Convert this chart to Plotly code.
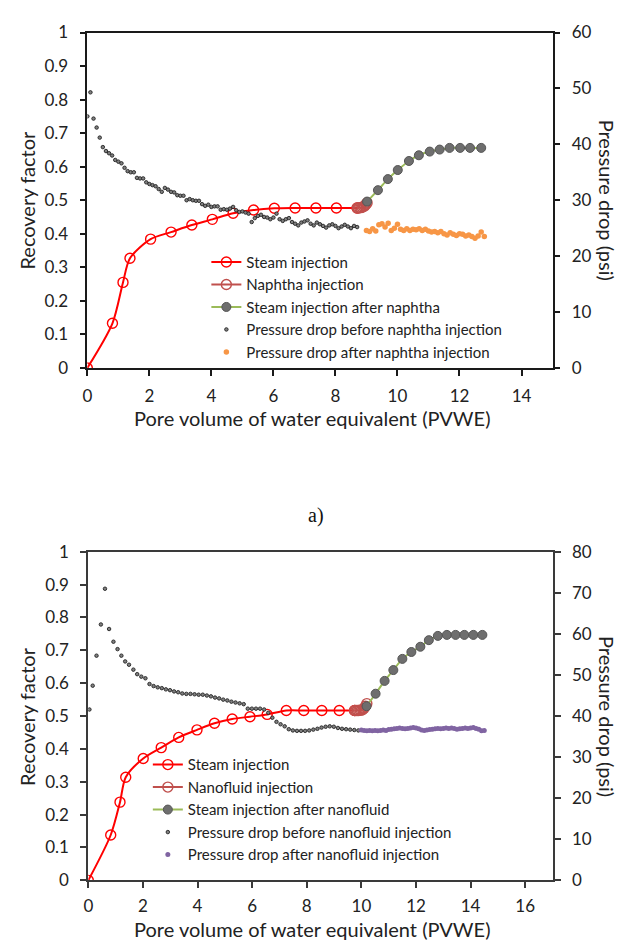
import plotly.graph_objects as go

# ---------------- Data: chart a) (naphtha) ----------------
a_steam_x = [0, 0.81, 1.15, 1.375, 2.04, 2.70, 3.37, 4.03, 4.70, 5.36, 6.03, 6.70, 7.37, 8.03, 8.70]
a_steam_rf = [0, 0.133, 0.255, 0.327, 0.384, 0.405, 0.426, 0.443, 0.461, 0.471, 0.476, 0.477, 0.477, 0.477, 0.477]

a_naph_x = [8.70, 8.74, 8.78, 8.82, 8.86, 8.90, 8.94, 8.98, 9.02]
a_naph_rf = [0.477, 0.477, 0.478, 0.478, 0.479, 0.481, 0.483, 0.487, 0.492]

a_after_x = [9.02, 9.37, 9.69, 10.01, 10.37, 10.69, 11.04, 11.36, 11.68, 12.02, 12.34, 12.70]
a_after_rf = [0.496, 0.530, 0.563, 0.590, 0.617, 0.634, 0.645, 0.651, 0.656, 0.656, 0.656, 0.656]

a_dp_before_x = [0.0, 0.1, 0.2, 0.3, 0.4, 0.5, 0.6, 0.7, 0.8, 0.9, 1.0, 1.1, 1.2, 1.3, 1.4, 1.5,
                 1.6, 1.7, 1.8, 1.9, 2.0, 2.1, 2.2, 2.3, 2.4, 2.5, 2.6, 2.7, 2.8, 2.9, 3.0, 3.1,
                 3.2, 3.3, 3.4, 3.5, 3.6, 3.7, 3.8, 3.9, 4.0, 4.1, 4.2, 4.3, 4.4, 4.5, 4.6, 4.7,
                 4.8, 4.9, 5.0, 5.1, 5.2, 5.3, 5.4, 5.5, 5.6, 5.7, 5.8, 5.9, 6.0, 6.1, 6.2, 6.3,
                 6.4, 6.5, 6.6, 6.7, 6.8, 6.9, 7.0, 7.1, 7.2, 7.3, 7.4, 7.5, 7.6, 7.7, 7.8, 7.9,
                 8.0, 8.1, 8.2, 8.3, 8.4, 8.5, 8.6, 8.7]
a_dp_before = [45.0, 49.3, 44.6, 43.0, 41.2, 39.5, 38.8, 38.4, 38.0, 37.2, 36.9, 36.6, 35.8, 35.2, 35.0, 35.0,
               34.0, 33.9, 33.9, 33.2, 32.9, 32.7, 32.5, 32.0, 31.5, 32.2, 31.9, 31.5, 31.4, 30.9, 30.8, 30.8,
               30.0, 30.2, 30.0, 29.9, 29.9, 29.3, 29.0, 29.2, 28.8, 28.9, 28.9, 28.3, 28.4, 28.3, 28.5, 28.8,
               28.2, 27.9, 28.0, 27.8, 27.6, 26.1, 26.8, 27.2, 27.4, 27.0, 26.9, 26.6, 26.9, 27.6, 26.6, 26.3,
               26.6, 26.8, 26.1, 25.8, 25.5, 26.0, 26.2, 26.4, 25.8, 25.5, 26.0, 25.7, 25.4, 25.1, 25.5, 25.7,
               25.4, 25.0, 25.3, 25.6, 25.3, 25.0, 25.4, 25.2]

a_dp_after_x = [9.0, 9.1, 9.2, 9.3, 9.4, 9.5, 9.6, 9.7, 9.8, 9.9, 10.0, 10.1, 10.2, 10.3, 10.4, 10.5,
                10.6, 10.7, 10.8, 10.9, 11.0, 11.1, 11.2, 11.3, 11.4, 11.5, 11.6, 11.7, 11.8, 11.9, 12.0,
                12.1, 12.2, 12.3, 12.4, 12.5, 12.6, 12.7, 12.8]
a_dp_after = [24.6, 24.4, 24.9, 24.5, 25.6, 25.8, 25.2, 25.9, 24.6, 25.0, 25.7, 24.8, 24.6, 24.9, 24.6, 24.8,
              24.7, 24.9, 24.6, 24.8, 24.5, 24.3, 24.4, 24.2, 24.4, 24.0, 23.8, 24.2, 23.9, 23.7, 24.0,
              23.9, 23.6, 23.8, 23.5, 23.2, 23.6, 24.3, 23.5]

# ---------------- Data: chart b) (nanofluid) ----------------
b_steam_x = [0, 0.82, 1.16, 1.37, 2.01, 2.67, 3.31, 3.98, 4.62, 5.27, 5.92, 6.55, 7.25, 7.89, 8.55, 9.19, 9.75]
b_steam_rf = [0, 0.138, 0.238, 0.314, 0.371, 0.404, 0.435, 0.458, 0.478, 0.491, 0.498, 0.505, 0.517, 0.517, 0.517, 0.517, 0.517]

b_nano_x = [9.75, 9.80, 9.85, 9.90, 9.95, 10.00, 10.05, 10.10, 10.15, 10.20]
b_nano_rf = [0.517, 0.517, 0.517, 0.517, 0.518, 0.518, 0.520, 0.524, 0.530, 0.538]

b_after_x = [10.19, 10.52, 10.85, 11.17, 11.50, 11.83, 12.16, 12.47, 12.80, 13.13, 13.45, 13.77, 14.10, 14.43]
b_after_rf = [0.530, 0.568, 0.607, 0.640, 0.674, 0.695, 0.711, 0.731, 0.744, 0.747, 0.747, 0.747, 0.747, 0.747]

b_dp_before_x = [0.04, 0.16, 0.30, 0.46, 0.61, 0.76, 0.92, 1.07, 1.21, 1.35, 1.49, 1.65, 1.79, 1.94, 2.09,
                 2.24, 2.39, 2.54, 2.69, 2.84, 2.99, 3.14, 3.29, 3.44, 3.59, 3.74, 3.89, 4.04, 4.19, 4.34,
                 4.49, 4.64, 4.79, 4.94, 5.09, 5.24, 5.39, 5.54, 5.69, 5.84, 5.99, 6.14, 6.29, 6.44, 6.59,
                 6.74, 6.89, 7.04, 7.19, 7.34, 7.49, 7.64, 7.79, 7.94, 8.09, 8.24, 8.39, 8.54, 8.69, 8.84,
                 8.99, 9.14, 9.29, 9.44, 9.59, 9.74, 9.89]
b_dp_before = [41.6, 47.4, 54.7, 62.3, 71.0, 61.2, 58.1, 56.3, 54.7, 53.3, 52.5, 51.3, 50.2, 49.6, 49.2,
               47.8, 47.3, 47.0, 46.8, 46.5, 46.3, 46.0, 45.8, 45.5, 45.4, 45.4, 45.3, 45.2, 45.2, 45.0,
               44.8, 44.5, 44.3, 44.0, 43.8, 43.5, 43.3, 43.1, 42.9, 41.8, 41.8, 41.8, 41.8, 41.6, 40.8,
               39.6, 38.6, 38.0, 37.5, 36.8, 36.5, 36.4, 36.4, 36.4, 36.5, 36.7, 36.9, 37.2, 37.4, 37.5,
               37.4, 37.1, 36.9, 36.8, 36.7, 36.6, 36.5]

b_dp_after_x = [10.0, 10.1, 10.2, 10.3, 10.4, 10.5, 10.6, 10.7, 10.8, 10.9, 11.0, 11.1, 11.2, 11.3, 11.4,
                11.5, 11.6, 11.7, 11.8, 11.9, 12.0, 12.1, 12.2, 12.3, 12.4, 12.5, 12.6, 12.7, 12.8, 12.9,
                13.0, 13.1, 13.2, 13.3, 13.4, 13.5, 13.6, 13.7, 13.8, 13.9, 14.0, 14.1, 14.2, 14.3, 14.4, 14.5]
b_dp_after = [36.6, 36.5, 36.4, 36.5, 36.4, 36.5, 36.4, 36.5, 36.6, 36.5, 36.7, 36.8, 36.9, 37.0, 37.1,
              37.0, 36.9, 37.0, 37.1, 37.2, 37.1, 36.9, 36.6, 36.5, 36.6, 36.7, 36.8, 36.9, 37.0, 36.9,
              37.0, 37.1, 37.0, 37.1, 37.0, 36.8, 36.9, 37.0, 37.1, 37.0, 37.1, 37.2, 37.0, 36.8, 36.4, 36.5]

a_names = ["Steam injection", "Naphtha injection", "Steam injection after naphtha",
           "Pressure drop before naphtha injection", "Pressure drop after naphtha injection"]
b_names = ["Steam injection", "Nanofluid injection", "Steam injection after nanofluid",
           "Pressure drop before nanofluid injection", "Pressure drop after nanofluid injection"]

x_title = "Pore volume of water equivalent (PVWE)"
y_title = "Recovery factor"
y2_title = "Pressure drop (psi)"
panel_label = "a)"

# ---------------- Styles ----------------
RED = "#FF0000"
BROWN = "#C0504D"
GREEN = "#9BBB59"
GRAY = "#6E6E6E"
ORANGE = "#F79646"
PURPLE = "#8064A2"
FONT = "Lato"
W, H = 619, 950

fig = go.Figure()


def add_panel(xa, ya, ya2, legend, names, steam, inj, after, dpb, dpa, after_color, after_size):
    fig.add_trace(go.Scatter(x=steam[0], y=steam[1], name=names[0], mode="lines+markers",
                             line=dict(color=RED, width=2, shape="spline", smoothing=0.8),
                             marker=dict(symbol="circle-open", size=10, color=RED, line=dict(width=1.4)),
                             xaxis=xa, yaxis=ya, legend=legend))
    fig.add_trace(go.Scatter(x=inj[0], y=inj[1], name=names[1], mode="lines+markers",
                             line=dict(color=BROWN, width=2),
                             marker=dict(symbol="circle-open", size=10, color=BROWN, line=dict(width=1.4)),
                             xaxis=xa, yaxis=ya, legend=legend))
    fig.add_trace(go.Scatter(x=after[0], y=after[1], name=names[2], mode="lines+markers",
                             line=dict(color=GREEN, width=2, shape="spline", smoothing=0.6),
                             marker=dict(symbol="circle", size=9, color=GRAY, line=dict(width=1, color="#555555")),
                             xaxis=xa, yaxis=ya, legend=legend))
    fig.add_trace(go.Scatter(x=dpb[0], y=dpb[1], name=names[3], mode="markers",
                             marker=dict(symbol="circle", size=3.5, color="#808080", line=dict(width=0.9, color="#222222")),
                             xaxis=xa, yaxis=ya2, legend=legend))
    fig.add_trace(go.Scatter(x=dpa[0], y=dpa[1], name=names[4], mode="markers",
                             marker=dict(symbol="circle", size=after_size, color=after_color),
                             xaxis=xa, yaxis=ya2, legend=legend))


add_panel("x", "y", "y2", "legend", a_names,
          (a_steam_x, a_steam_rf), (a_naph_x, a_naph_rf), (a_after_x, a_after_rf),
          (a_dp_before_x, a_dp_before), (a_dp_after_x, a_dp_after), ORANGE, 5.5)
add_panel("x2", "y3", "y4", "legend2", b_names,
          (b_steam_x, b_steam_rf), (b_nano_x, b_nano_rf), (b_after_x, b_after_rf),
          (b_dp_before_x, b_dp_before), (b_dp_after_x, b_dp_after), PURPLE, 5)

tickfont = dict(family=FONT, size=17, color="#222222")


def ax(color, width, **kw):
    d = dict(showgrid=False, zeroline=False, showline=True, linecolor=color, linewidth=width,
             ticks="outside", ticklen=6, tickwidth=width, tickcolor=color, tickfont=tickfont,
             ticklabelstandoff=8)
    d.update(kw)
    return d


def py(p):
    return 1 - p / H


def px(p):
    return p / W


TOPC = "#1a1a1a"
BOTC = "#3a3a3a"
fig.update_layout(
    width=W, height=H, margin=dict(l=0, r=0, t=0, b=0),
    paper_bgcolor="white", plot_bgcolor="white",
    font=dict(family=FONT, color="#222222"),
    xaxis=ax(TOPC, 1.5, domain=[px(83), px(552)], anchor="y", range=[0, 15], dtick=2, mirror=True,
             ticklabelstandoff=6),
    yaxis=ax(TOPC, 1.5, domain=[py(365), py(22)], anchor="x", range=[0, 1], dtick=0.1),
    yaxis2=ax(TOPC, 1.5, overlaying="y", anchor="x", side="right", range=[0, 60], dtick=10),
    xaxis2=ax(BOTC, 2, domain=[px(84), px(552)], anchor="y3", range=[0, 17], dtick=2, mirror=True,
              ticklabelstandoff=3),
    yaxis3=ax(BOTC, 2, domain=[py(889), py(553)], anchor="x2", range=[0, 1], dtick=0.1),
    yaxis4=ax(BOTC, 2, overlaying="y3", anchor="x2", side="right", range=[0, 80], dtick=10),
    legend=dict(x=px(203), y=py(240), xanchor="left", yanchor="top", bgcolor="rgba(0,0,0,0)",
                font=dict(family=FONT, size=15, color="#222222"), tracegroupgap=0, itemwidth=30),
    legend2=dict(x=px(144), y=py(754), xanchor="left", yanchor="top", bgcolor="rgba(0,0,0,0)",
                 font=dict(family=FONT, size=15, color="#222222"), tracegroupgap=0, itemwidth=30),
    showlegend=True,
)

ann_font = dict(family=FONT, size=20, color="#222222")


def ann(text, x, y, angle=0, font=ann_font):
    return dict(text=text, x=px(x), y=py(y), xref="paper", yref="paper", showarrow=False,
                xanchor="center", yanchor="middle", font=font, textangle=angle)


annotations = [
    ann(x_title, 310, 416),
    ann(x_title, 310, 939),
    ann(y_title, 22, 193, -90),
    ann(y_title, 22, 721, -90),
    ann(y2_title, 607, 193, 90),
    ann(y2_title, 607, 721, 90),
    ann(panel_label, 314, 516, 0, dict(family="Liberation Serif", size=20, color="#111111")),
]
fig.update_layout(annotations=annotations)

fig.write_html("out.html")
